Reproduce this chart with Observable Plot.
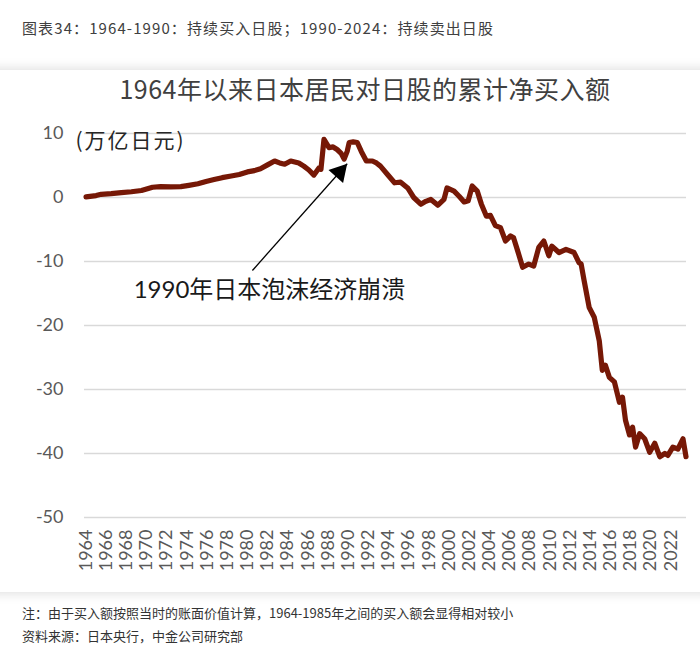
<!DOCTYPE html>
<html>
<head>
<meta charset="utf-8">
<script src="https://cdn.jsdelivr.net/npm/d3@7"></script>
<script src="https://cdn.jsdelivr.net/npm/@observablehq/plot@0.6"></script>
<style>
  html, body { margin: 0; padding: 0; background: #fff; }
  body { width: 700px; height: 650px; position: relative; overflow: hidden;
         font-family: "Noto Sans CJK SC", "Noto Sans", sans-serif; }
  #sub { position: absolute; top: 19px; left: 22px; font-size: 15px; line-height: 18px;
         color: #404040; letter-spacing: 1.1px; white-space: nowrap; }
  #card { position: absolute; top: 70px; left: -30px; width: 760px; height: 522px;
          background: #fff; box-shadow: 0 0 12px rgba(0,0,0,0.16); }
  #title { position: absolute; top: 72px; left: 0; width: 730px; text-align: center;
           font-size: 25px; line-height: 32px; color: #404040; letter-spacing: 0.5px; white-space: nowrap; }
  #chart { position: absolute; top: 100px; left: 0; }
  .note { position: absolute; left: 22px; font-size: 13px; line-height: 18px; color: #333;
          white-space: nowrap; }
</style>
</head>
<body>
<div id="sub"></div>
<div id="card"></div>
<div id="title"></div>
<div id="chart"></div>
<div class="note" id="note1" style="top:604px"></div>
<div class="note" id="note2" style="top:627px"></div>
<script>
// ---- texts ----
const subtitleText = "图表34：1964-1990：持续买入日股；1990-2024：持续卖出日股";
const chartTitle = "1964年以来日本居民对日股的累计净买入额";
const unitText = "(万亿日元)";
const annotationText = "1990年日本泡沫经济崩溃";
const noteText = "注：由于买入额按照当时的账面价值计算，1964-1985年之间的买入额会显得相对较小";
const sourceText = "资料来源：日本央行，中金公司研究部";

// ---- series (year, cumulative net purchase, trillion yen) ----
const years = [
  1964.0, 1965.0, 1965.5, 1966.5, 1967.5, 1968.5, 1969.5, 1970.6, 1971.4, 1972.4,
  1973.4, 1974.2, 1975.1, 1975.9, 1976.7, 1977.5, 1978.4, 1979.2, 1980.0, 1980.7,
  1981.3, 1982.0, 1982.7, 1983.2, 1983.7, 1984.3, 1985.1, 1985.6, 1986.1, 1986.6,
  1987.1, 1987.3, 1987.6, 1988.1, 1988.5, 1988.9, 1989.3, 1989.6, 1989.9, 1990.1,
  1990.5, 1990.9, 1991.3, 1991.8, 1992.4, 1992.8, 1993.2, 1993.9, 1994.6, 1995.2,
  1995.9, 1996.5, 1997.2, 1997.7, 1998.2, 1998.9, 1999.5, 1999.8, 2000.5, 2001.0,
  2001.5, 2001.9, 2002.3, 2002.8, 2003.2, 2003.7, 2004.1, 2004.6, 2005.1, 2005.6,
  2006.1, 2006.4, 2006.8, 2007.3, 2007.9, 2008.4, 2008.9, 2009.4, 2009.9, 2010.2,
  2010.9, 2011.6, 2012.4, 2012.9, 2013.1, 2013.4, 2013.9, 2014.4, 2014.9, 2015.2,
  2015.5, 2015.9, 2016.4, 2016.9, 2017.2, 2017.5, 2017.9, 2018.2, 2018.5, 2018.9,
  2019.4, 2019.9, 2020.4, 2020.9, 2021.4, 2021.7, 2022.2, 2022.7, 2023.2, 2023.5
];
const netBuy = [
  0.1, 0.3, 0.5, 0.6, 0.75, 0.9, 1.1, 1.6, 1.7, 1.65,
  1.7, 1.9, 2.15, 2.5, 2.8, 3.1, 3.35, 3.6, 4.0, 4.2,
  4.5, 5.1, 5.7, 5.4, 5.2, 5.7, 5.4, 4.9, 4.3, 3.5,
  4.6, 4.4, 9.1, 7.8, 7.9, 7.5, 6.9, 6.0, 7.2, 8.6,
  8.7, 8.6, 7.2, 5.7, 5.7, 5.4, 4.9, 3.6, 2.3, 2.4,
  1.5, 0.0, -1.05, -0.6, -0.3, -1.2, -0.3, 1.5, 1.0, 0.2,
  -0.7, -0.5, 1.8, 1.0, -1.0, -2.9, -2.8, -4.4, -4.7, -6.8,
  -6.0, -6.3, -8.3, -10.9, -10.4, -10.7, -7.8, -6.8, -9.1, -7.6,
  -8.6, -8.1, -8.6, -10.2, -10.4, -13.0, -17.2, -18.7, -22.4, -27.0,
  -26.2, -28.1, -28.8, -32.0, -31.2, -34.8, -37.1, -35.9, -39.0, -36.9,
  -37.7, -39.8, -38.4, -40.5, -40.0, -40.3, -39.0, -39.3, -37.7, -40.5
];

// ---- axes ----
const yTicks = [10, 0, -10, -20, -30, -40, -50];
const xTicks = [1964, 1966, 1968, 1970, 1972, 1974, 1976, 1978, 1980, 1982,
  1984, 1986, 1988, 1990, 1992, 1994, 1996, 1998, 2000, 2002,
  2004, 2006, 2008, 2010, 2012, 2014, 2016, 2018, 2020, 2022];
const xDomain = [1963.85, 2023.55];
const yDomain = [-50, 10];

// ---- annotation anchor points (data units) ----
const arrowTail = {year: 1980.5, value: -11.4};
const arrowHead = {year: 1989.9, value: 5.27};
const labelPoint = {year: 1982.2, value: -14.5};

document.getElementById("sub").textContent = subtitleText;
document.getElementById("title").textContent = chartTitle;
document.getElementById("note1").textContent = noteText;
document.getElementById("note2").textContent = sourceText;

const data = years.map((y, i) => ({year: y, value: netBuy[i]}));
const numFont = "Lato, 'Noto Sans CJK SC', sans-serif";

const chart = Plot.plot({
  width: 700,
  height: 490,
  marginTop: 33,
  marginBottom: 73,
  marginLeft: 84,
  marginRight: 14,
  x: {domain: xDomain},
  y: {domain: yDomain},
  style: {background: "transparent", fontFamily: numFont, overflow: "visible"},
  marks: [
    Plot.ruleY(yTicks, {stroke: "#d9d9d9", strokeWidth: 1.5}),
    Plot.axisY({ticks: yTicks, tickSize: 0, tickPadding: 21, fontSize: 18, fill: "#595959",
      label: null, tickFormat: d => String(d)}),
    Plot.axisX({ticks: xTicks, tickSize: 0, tickRotate: -90, tickPadding: 12, fontSize: 18,
      fill: "#595959", label: null, tickFormat: d => String(d)}),
    Plot.line(data, {x: "year", y: "value", stroke: "#761806", strokeWidth: 5.2,
      strokeLinejoin: "round", strokeLinecap: "round"}),
    Plot.link([{t: arrowTail, h: arrowHead}], {
      x1: d => d.t.year, y1: d => d.t.value, x2: d => d.h.year, y2: d => d.h.value,
      stroke: "#000", strokeWidth: 1.3}),
    Plot.dot([arrowHead], {x: "year", y: "value", symbol: "triangle", r: 7.3, fill: "#000",
      stroke: null, rotate: 42, dx: -7.6, dy: 8.5}),
    Plot.text([labelPoint], {x: "year", y: "value", text: () => annotationText,
      fontSize: 24, fill: "#1a1a1a", textAnchor: "middle", lineAnchor: "middle",
      fontFamily: "Lato, 'Noto Sans CJK SC', sans-serif"}),
    Plot.text([unitText], {frameAnchor: "top-left", text: d => d, dx: -9, dy: 8,
      textAnchor: "start", lineAnchor: "middle", fontSize: 21, fill: "#262626",
      fontFamily: "'Noto Sans CJK SC', sans-serif"})
  ]
});
document.getElementById("chart").appendChild(chart);

// letter spacing for the unit label
d3.select(chart).selectAll("text").each(function() {
  if (this.textContent === unitText) d3.select(this).attr("letter-spacing", "2px");
});
</script>
</body>
</html>
